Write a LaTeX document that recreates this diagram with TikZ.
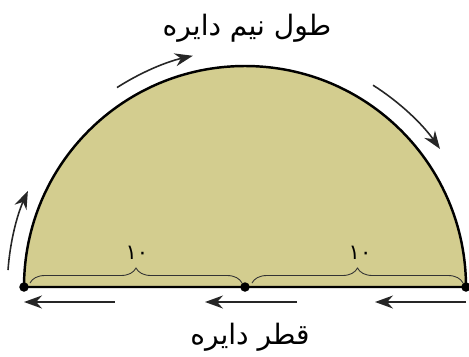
\documentclass[tikz,border=0pt]{standalone}
\usepackage{fontspec}
\newfontfamily\farsifont[Script=Arabic]{DejaVu Sans}
\TeXXeTstate=1
\usetikzlibrary{arrows.meta,decorations.pathreplacing}
\definecolor{khaki}{RGB}{211,205,143}

\begin{document}
\begin{tikzpicture}[x=0.02cm, y=0.02cm,
    rim/.style={draw=black, line width=1.4pt},
    dot/.style={circle, fill=black, inner sep=0pt, minimum size=0.19cm},
    flow/.style={line width=0.9pt, black!85, -{Stealth[length=0.36cm, width=0.26cm]}},
    halfbrace/.style={decorate, decoration={brace, amplitude=0.3cm}, line width=0.5pt, black!80},
    persian/.style={font=\farsifont\fontsize{16}{19}\selectfont},
    digits/.style={font=\farsifont\fontsize{12}{14}\selectfont}]
    \useasboundingbox (-245,-69) rectangle (224,287);
    % half disc
    \filldraw[fill=khaki, rim] (-221,0) arc (180:0:221) -- cycle;
    % ends and centre
    \node[dot] (left) at (-221,0) {};
    \node[dot] (mid) at (0,0) {};
    \node[dot] (right) at (221,0) {};
    % braces and radii
    \draw[halfbrace] (-215,4) -- (-3,4);
    \draw[halfbrace] (7,4) -- (218,4);
    \node[digits] (rleft) at (-108,34) {۱۰};
    \node[digits] (rright) at (115,34) {۱۰};
    % arrows along the arc
    \draw[flow] (175.9:237.6) arc (175.9:155.9:235);
    \draw[flow] (122.7:237) arc (122.7:102.8:238);
    \draw[flow] (57.6:239) arc (57.6:35.2:238);
    % arrows under the diameter
    \coordinate (a1) at (-130,-15); \coordinate (b1) at (-221,-15);
    \coordinate (a2) at (52,-15);   \coordinate (b2) at (-40,-15);
    \coordinate (a3) at (221,-15);  \coordinate (b3) at (130,-15);
    \draw[flow] (a1) -- (b1);
    \draw[flow] (a2) -- (b2);
    \draw[flow] (a3) -- (b3);
    % labels
    \node[persian] (arclabel) at (2,259) {\beginR طول نیم دایره\endR};
    \node[persian] (diamlabel) at (5,-50) {\beginR قطر دایره\endR};
\end{tikzpicture}
\end{document}
